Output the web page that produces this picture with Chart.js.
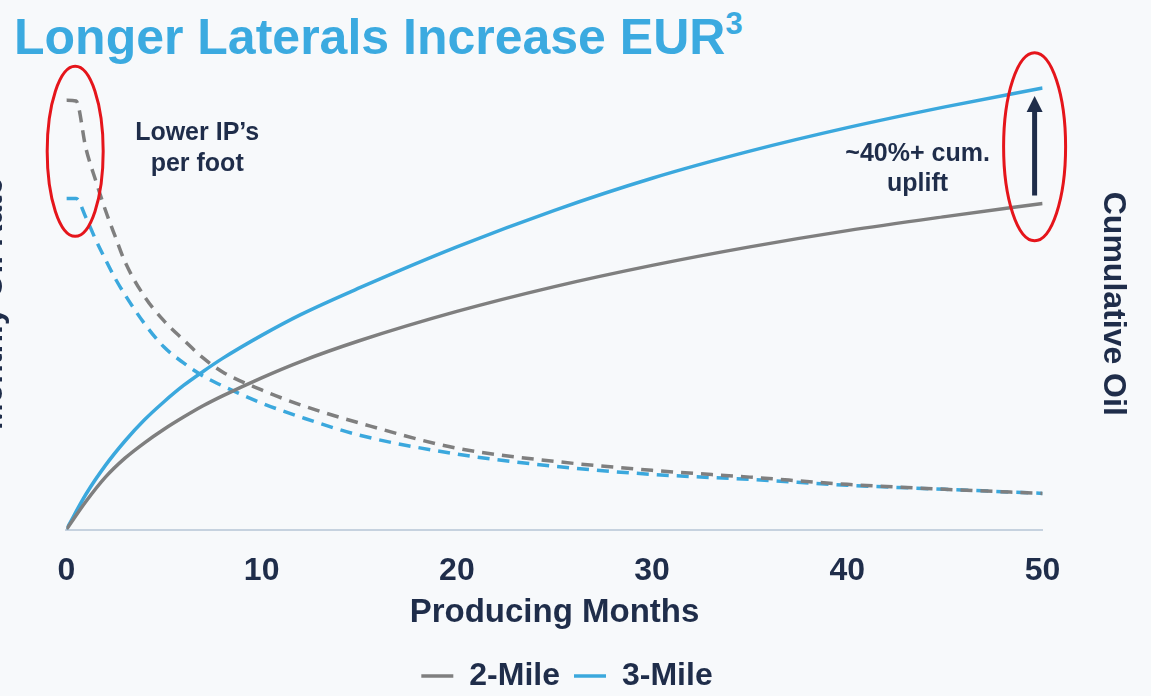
<!DOCTYPE html>
<html>
<head>
<meta charset="utf-8">
<script src="https://cdn.jsdelivr.net/npm/chart.js@4"></script>
<style>
  html, body { margin: 0; padding: 0; background: #F7F9FB; overflow: hidden; }
  body { width: 1151px; height: 696px; position: relative; }
  #title {
    position: absolute; left: 14px; top: 12px;
    font: bold 50px 'Liberation Sans', Arial, sans-serif; line-height: 50px;
    color: #3BAAE0; white-space: nowrap;
  }
  #title span { font-size: 31px; position: relative; top: -20px; }
  #wrap { position: absolute; left: -29px; top: 0; width: 1180px; height: 702px; }
</style>
</head>
<body>
<div id="title">Longer Laterals Increase EUR<span>3</span></div>
<div id="wrap"><canvas id="chart"></canvas></div>
<script>
// producing months (x) for each series
const rateMonths = [0, 0.5, 1, 1.5, 2, 2.5, 3, 4, 5, 6, 7, 8, 10, 12, 15, 20, 25, 30, 35, 40, 45, 50];
const cumMonths  = [0, 1, 2, 3, 4, 5, 6, 7, 8, 10, 12, 15, 20, 25, 30, 35, 40, 45, 50];

// oil rate (dashed, left axis) - relative units
const rate2Mile = [95.1, 94.9, 84.4, 77.3, 70.7, 64.9, 59.3, 51.6, 46.2, 42.0, 38.0, 34.9, 30.9, 27.6, 23.6, 18.0, 15.1, 13.1, 11.6, 10.0, 8.9, 8.0];
const rate3Mile = [73.3, 73.3, 69.1, 64.2, 59.8, 55.6, 52.0, 45.6, 40.4, 36.9, 34.0, 31.8, 28.0, 24.9, 20.9, 16.7, 14.0, 12.2, 11.1, 9.8, 8.9, 8.0];

// cumulative oil (solid, right axis) - relative units
const cum2Mile = [0, 6.2, 11.6, 15.8, 19.2, 22.2, 24.9, 27.4, 29.6, 33.6, 37.2, 41.8, 48.3, 53.8, 58.5, 62.6, 66.2, 69.3, 72.2];
const cum3Mile = [0, 7.8, 14.2, 19.6, 24.3, 28.3, 31.9, 35.0, 37.9, 43.0, 47.6, 53.5, 62.6, 70.7, 77.8, 83.8, 89.0, 93.6, 97.8];

const xTicks = [0, 10, 20, 30, 40, 50];

const GRAY = '#7F7F7F';
const BLUE = '#3BA8DD';
const NAVY = '#1F2D4A';
const RED = '#E5151B';
const FONT = "'Liberation Sans', Arial, sans-serif";

Chart.defaults.font.family = FONT;
Chart.defaults.font.weight = 'bold';
Chart.defaults.color = NAVY;

const pts = (xs, ys) => xs.map((x, i) => ({ x: x, y: ys[i] }));

// nudge the legend row a little to the right
const legendShift = {
  id: 'legendShift',
  afterLayout(chart) {
    chart.legend.left += 6;
    chart.legend.right += 6;
  }
};

// red ellipses, arrow and notes, placed from the scales
const notes = {
  id: 'notes',
  afterDatasetsDraw(chart) {
    const { ctx, scales } = chart;
    const x = scales.x, yl = scales.yRate, yr = scales.yCum;
    const last = cum3Mile.length - 1;

    ctx.save();
    ctx.strokeStyle = RED;
    ctx.lineWidth = 3;

    // left ellipse round the starting rates
    const lx = x.getPixelForValue(0.45);
    const ly = (yl.getPixelForValue(rate2Mile[0]) + yl.getPixelForValue(rate3Mile[0])) / 2 + 2;
    ctx.beginPath();
    ctx.ellipse(lx, ly, 28, 85, 0, 0, Math.PI * 2);
    ctx.stroke();

    // right ellipse round the end of the cumulative curves
    const top = yr.getPixelForValue(cum3Mile[last]);
    const bot = yr.getPixelForValue(cum2Mile[last]);
    const rx = x.getPixelForValue(cumMonths[last]) - 8;
    ctx.beginPath();
    ctx.ellipse(rx, (top + bot) / 2 + 1, 31, 94, 0, 0, Math.PI * 2);
    ctx.stroke();

    // arrow
    ctx.strokeStyle = NAVY;
    ctx.fillStyle = NAVY;
    ctx.lineWidth = 5;
    ctx.beginPath();
    ctx.moveTo(rx, bot - 8);
    ctx.lineTo(rx, top + 20);
    ctx.stroke();
    ctx.beginPath();
    ctx.moveTo(rx, top + 8);
    ctx.lineTo(rx - 8, top + 24);
    ctx.lineTo(rx + 8, top + 24);
    ctx.closePath();
    ctx.fill();

    // text
    ctx.font = 'bold 25px ' + FONT;
    ctx.textAlign = 'center';
    ctx.textBaseline = 'middle';
    ctx.fillText('Lower IP\u2019s', lx + 122, ly - 18);
    ctx.fillText('per foot', lx + 122, ly + 13);
    ctx.fillText('~40%+ cum.', rx - 117, (top + bot) / 2 + 8);
    ctx.fillText('uplift', rx - 117, (top + bot) / 2 + 38);
    ctx.restore();
  }
};

new Chart(document.getElementById('chart'), {
  type: 'line',
  data: {
    datasets: [
      { label: '2-Mile', data: pts(cumMonths, cum2Mile), yAxisID: 'yCum',
        borderColor: GRAY, backgroundColor: GRAY, borderWidth: 3.5 },
      { label: '3-Mile', data: pts(cumMonths, cum3Mile), yAxisID: 'yCum',
        borderColor: BLUE, backgroundColor: BLUE, borderWidth: 3.5 },
      { label: '2-Mile rate', data: pts(rateMonths, rate2Mile), yAxisID: 'yRate',
        borderColor: GRAY, borderWidth: 3.5, borderDash: [12, 8] },
      { label: '3-Mile rate', data: pts(rateMonths, rate3Mile), yAxisID: 'yRate',
        borderColor: BLUE, borderWidth: 3.5, borderDash: [12, 8] }
    ]
  },
  options: {
    responsive: true,
    maintainAspectRatio: false,
    animation: false,
    layout: { padding: { top: 78, left: 0, right: 0, bottom: 0 } },
    elements: {
      point: { radius: 0 },
      line: { cubicInterpolationMode: 'monotone', fill: false }
    },
    scales: {
      x: {
        type: 'linear', min: 0, max: 50,
        afterBuildTicks: (s) => { s.ticks = xTicks.map(v => ({ value: v })); },
        ticks: { font: { size: 32, weight: 'bold' }, color: NAVY, padding: 22 },
        grid: { display: false, drawTicks: false },
        border: { display: true, color: '#C6D2DF', width: 2 },
        title: { display: true, text: 'Producing Months', color: NAVY,
                 font: { size: 33, weight: 'bold', lineHeight: 1.2 }, padding: { top: -19, bottom: 13.5 } }
      },
      yRate: {
        position: 'left', min: 0, max: 100,
        ticks: { display: false },
        grid: { display: false, drawTicks: false },
        border: { display: false },
        title: { display: true, text: 'Monthly Oil Rate', color: NAVY,
                 font: { size: 32, weight: 'bold', lineHeight: 1.2 }, padding: { top: 3, bottom: 54 } }
      },
      yCum: {
        position: 'right', min: 0, max: 100,
        ticks: { display: false },
        grid: { display: false, drawTicks: false },
        border: { display: false },
        title: { display: true, text: 'Cumulative Oil', color: NAVY,
                 font: { size: 32, weight: 'bold', lineHeight: 1.2 }, padding: { top: 19, bottom: 51 } }
      }
    },
    plugins: {
      tooltip: { enabled: false },
      legend: {
        position: 'bottom',
        labels: {
          filter: (item) => item.datasetIndex < 2,
          usePointStyle: true,
          pointStyle: 'line',
          pointStyleWidth: 32,
          padding: 14,
          color: NAVY,
          font: { size: 32, weight: 'bold' }
        }
      }
    }
  },
  plugins: [notes, legendShift]
});
</script>
</body>
</html>
